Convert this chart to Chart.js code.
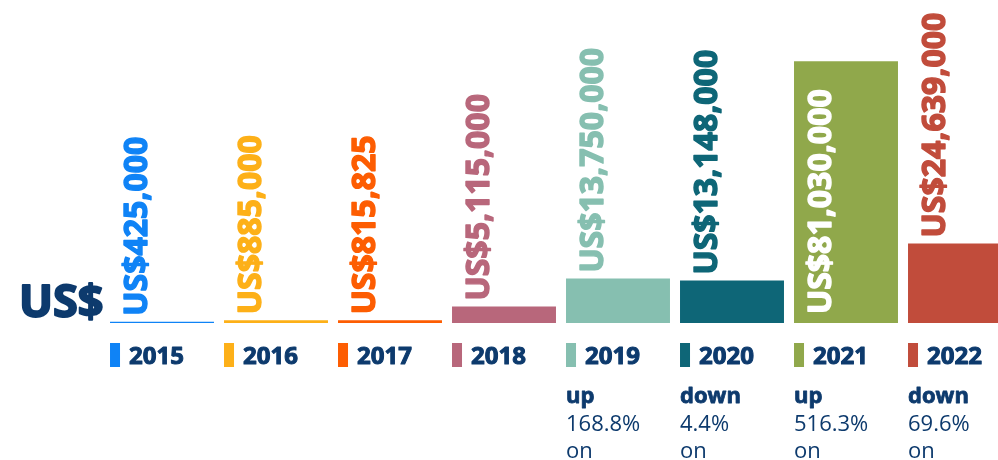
<!DOCTYPE html>
<html>
<head>
<meta charset="utf-8">
<script src="https://cdn.jsdelivr.net/npm/chart.js@4/dist/chart.umd.min.js"></script>
<style>
    html, body {
        margin: 0;
        padding: 0;
        background: #ffffff;
        overflow: hidden;
    }
    #wrap {
        width: 1020px;
        height: 460px;
    }
</style>
</head>
<body>
<div id="wrap">
    <canvas id="myChart" width="1020" height="460"></canvas>
</div>
<script>
const years = ['2015', '2016', '2017', '2018', '2019', '2020', '2021', '2022'];
const amounts = [425000, 885000, 815825, 5115000, 13750000, 13148000, 81030000, 24639000];
const amountLabels = ['US$425,000', 'US$885,000', 'US$815,825', 'US$5,115,000', 'US$13,750,000', 'US$13,148,000', 'US$81,030,000', 'US$24,639,000'];
const barColors = ['#0f83f6', '#fdb018', '#fd5d02', '#b8677b', '#86bfb0', '#0e6677', '#90a84b', '#c14c3b'];
const trendWords = ['', '', '', '', 'up', 'down', 'up', 'down'];
const trendPercents = ['', '', '', '', '168.8%', '4.4%', '516.3%', '69.6%'];

const navy = '#0d3a6d';
const fontFamily = '"Open Sans", "DejaVu Sans", sans-serif';

// bold text with a thin outline in the same colour to make it heavier
const heavyText = (ctx, text, x, y, color, weight) => {
    ctx.fillStyle = color;
    ctx.strokeStyle = color;
    ctx.lineWidth = weight;
    ctx.lineJoin = 'round';
    ctx.strokeText(text, x, y);
    ctx.fillText(text, x, y);
};

// value labels written vertically above each bar (inside when it won't fit)
const amountLabelPlugin = {
    id: 'amountLabels',
    afterDatasetsDraw(chart) {
        const ctx = chart.ctx;
        const bars = chart.getDatasetMeta(0).data;
        ctx.save();
        ctx.font = 'bold 32px ' + fontFamily;
        ctx.textBaseline = 'middle';
        ctx.textAlign = 'left';
        bars.forEach((bar, i) => {
            const left = bar.x - bar.width / 2;
            const text = amountLabels[i];
            const len = ctx.measureText(text).width;
            let y = bar.y - 6;
            let color = barColors[i];
            if (y - len < 4) {
                y = bar.base - 9;
                color = '#ffffff';
            }
            ctx.save();
            ctx.translate(left + 28, y);
            ctx.rotate(-Math.PI / 2);
            heavyText(ctx, text, 0, 0, color, 1.4);
            ctx.restore();
        });
        ctx.restore();
    }
};

// year keys under the bars, the yearly change notes, and the currency tag
const footerPlugin = {
    id: 'footer',
    afterDraw(chart) {
        const ctx = chart.ctx;
        const bars = chart.getDatasetMeta(0).data;
        ctx.save();

        ctx.font = 'bold 45px ' + fontFamily;
        ctx.textAlign = 'left';
        ctx.textBaseline = 'alphabetic';
        heavyText(ctx, 'US$', 19, 317, navy, 2);

        bars.forEach((bar, i) => {
            const left = bar.x - bar.width / 2;

            ctx.fillStyle = barColors[i];
            ctx.fillRect(left, 343, 10, 24);

            ctx.font = 'bold 24px ' + fontFamily;
            heavyText(ctx, years[i], left + 19, 364, navy, 1);

            if (trendWords[i]) {
                ctx.font = 'bold 22px ' + fontFamily;
                heavyText(ctx, trendWords[i], left, 403, navy, 0.8);
                ctx.font = '22px ' + fontFamily;
                ctx.fillText(trendPercents[i], left, 431);
                ctx.fillText('on', left, 458);
            }
        });
        ctx.restore();
    }
};

const start = () => {
    const myChartRef = document.getElementById('myChart').getContext('2d');

    new Chart(myChartRef, {
        type: 'bar',
        data: {
            labels: years,
            datasets: [
                {
                    data: amounts,
                    backgroundColor: barColors,
                    borderWidth: 0,
                    categoryPercentage: 1,
                    barPercentage: 0.912,
                }
            ]
        },
        options: {
            responsive: false,
            animation: false,
            events: [],
            layout: {
                padding: { left: 105, right: 3, top: 0, bottom: 137 }
            },
            scales: {
                x: { display: false },
                y: { display: false, min: 0, max: 100000000 },
            },
            plugins: {
                legend: { display: false },
                tooltip: { enabled: false },
            }
        },
        plugins: [amountLabelPlugin, footerPlugin]
    });
};

Promise.all([
    document.fonts.load('bold 32px "Open Sans"'),
    document.fonts.load('22px "Open Sans"'),
]).then(start, start);
</script>
</body>
</html>
